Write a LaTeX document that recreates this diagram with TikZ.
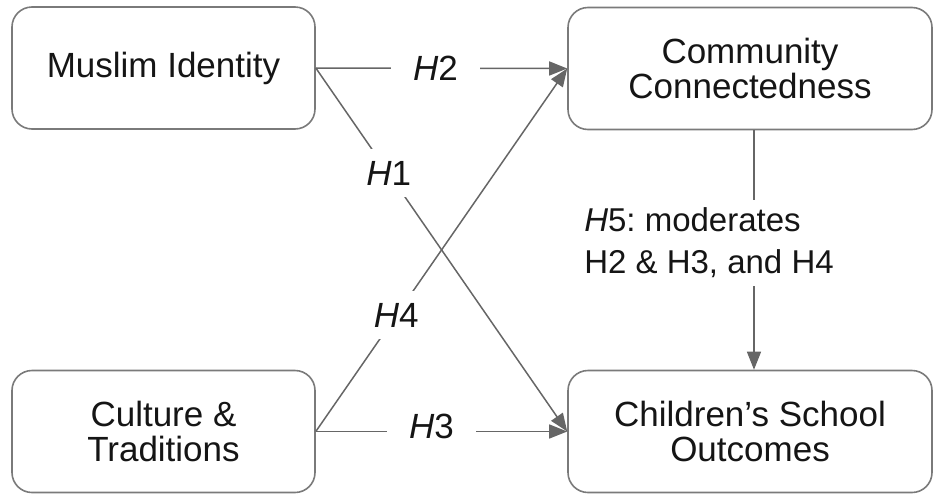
\documentclass[tikz,border=0pt]{standalone}
\usepackage{fontspec}
\setmainfont{Liberation Sans}
\usetikzlibrary{arrows.meta}
\definecolor{boxline}{HTML}{7A7A7A}
\definecolor{conn}{HTML}{666666}
\definecolor{txt}{HTML}{151515}
\frenchspacing
\begin{document}
\begin{tikzpicture}[x=1pt,y=-1pt,
  box/.style={draw=boxline, line width=1.6pt, rounded corners=20pt, fill=white,
    minimum width=#1, minimum height=122pt, inner sep=0pt, align=center,
    text=txt, font=\fontsize{35}{35}\selectfont},
  arr/.style={draw=conn, line width=1.5pt, -{Triangle[length=18pt,width=14pt]}},
  lab/.style={fill=white, text=txt, font=\fontsize{35}{35}\selectfont, inner xsep=12pt, inner ysep=12pt}
]
\useasboundingbox (0,0) rectangle (934,493);
\node[box=303pt] (mi) at (163.5,68) {Muslim Identity};
\node[box=364pt] (cc) at (750,68.5) {Community\\Connectedness};
\node[box=303pt] (ct) at (163.5,431.5) {Culture \&\\Traditions};
\node[box=364pt] (ch) at (750,431.5) {Children’s School\\Outcomes};

\draw[arr] (mi.east) -- node[pos=0.5, lab, inner xsep=22pt, xshift=-6pt] (h2) {\textit{H}2} (cc.west);
\draw[arr] (mi.east) -- node[pos=0.29, lab] (h1) {\textit{H}1} (ch.west);
\draw[arr] (ct.east) -- node[pos=0.32, lab] (h4) {\textit{H}4} (cc.west);
\draw[arr] (ct.east) -- node[pos=0.46, lab, inner xsep=22pt, yshift=5pt] (h3) {\textit{H}3} (ch.west);
\draw[arr] ([xshift=4pt]cc.south) -- node[pos=0.47, fill=white, text=txt, align=left,
   font=\fontsize{33}{42}\selectfont, inner xsep=0pt, inner ysep=8pt, xshift=-45pt] (h5)
   {\textit{H}5: moderates\\H2 \& H3, and H4} ([xshift=4pt]ch.north);
\end{tikzpicture}
\end{document}
